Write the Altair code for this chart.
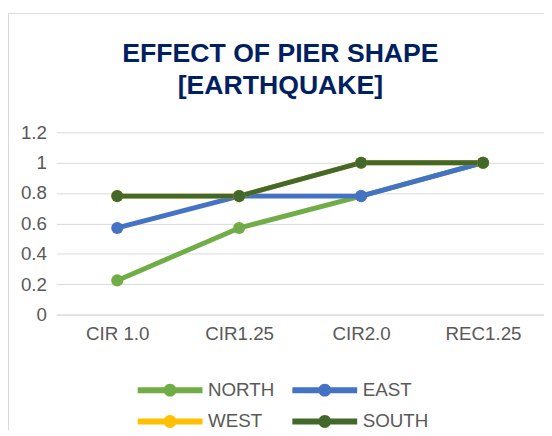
import altair as alt
import pandas as pd

categories = ["CIR 1.0", "CIR1.25", "CIR2.0", "REC1.25"]
series = ["NORTH", "EAST", "WEST", "SOUTH"]
north = [0.225, 0.57, 0.78, 1.0]
east = [0.57, 0.78, 0.78, 1.0]
west = [0.78, 0.78, 1.0, 1.0]
south = [0.78, 0.78, 1.0, 1.0]
colors = ["#70AD47", "#4472C4", "#FFC000", "#43682B"]
y_ticks = [0, 0.2, 0.4, 0.6, 0.8, 1.0, 1.2]
title_lines = ["EFFECT OF PIER SHAPE", "[EARTHQUAKE]"]

rows = []
for name, vals in zip(series, [north, east, west, south]):
    for c, v in zip(categories, vals):
        rows.append({"shape": c, "series": name, "value": v})
df = pd.DataFrame(rows)

FONT = "Liberation Sans"
GRAY = "#595959"
# line + dot legend glyph (unit = 7px with symbolSize 196)
legend_path = ("M-4.7,-0.43 L4.7,-0.43 L4.7,0.43 L-4.7,0.43 Z "
               "M-0.93,0 A0.93,0.93 0 1,1 0.93,0 A0.93,0.93 0 1,1 -0.93,0 Z")

frame = alt.Chart(pd.DataFrame({"k": [0]})).mark_rect(
    filled=False, stroke="#D9D9D9", strokeWidth=1
).encode(
    x=alt.value(-48.5), x2=alt.value(700), y=alt.value(-120.5), y2=alt.value(500)
)

base = alt.Chart(df).encode(
    x=alt.X("shape:N", sort=categories, scale=alt.Scale(padding=0.5),
            axis=alt.Axis(title=None, labelAngle=0, ticks=False, domain=True,
                          domainColor="#D9D9D9", labelFontSize=19, labelColor=GRAY,
                          labelFont=FONT, labelPadding=10, grid=False)),
    y=alt.Y("value:Q", scale=alt.Scale(domain=[0, 1.2]),
            axis=alt.Axis(title=None, values=y_ticks, ticks=False, domain=False,
                          format=".1~f",
                          gridColor="#D9D9D9", labelFontSize=19, labelColor=GRAY,
                          labelFont=FONT, labelPadding=10)),
    color=alt.Color("series:N", sort=series,
                    scale=alt.Scale(domain=series, range=colors),
                    legend=alt.Legend(title=None, orient="none", legendX=106, legendY=252,
                                      columns=2, direction="horizontal",
                                      symbolType=legend_path, symbolSize=196,
                                      symbolStrokeWidth=0, labelFontSize=19,
                                      labelColor=GRAY, labelFont=FONT, labelOffset=29,
                                      columnPadding=17, rowPadding=12)),
)

lines = base.mark_line(strokeWidth=5, point=alt.OverlayMarkDef(filled=True, size=150, opacity=1))

chart = alt.layer(frame, lines).properties(
    width=495, height=185,
    autosize=alt.AutoSizeParams(type="none"),
    padding={"left": 49, "top": 123, "right": 0, "bottom": 114},
    title=alt.TitleParams(text=title_lines, fontSize=27, font=FONT, fontWeight="bold",
                          color="#002060", anchor="middle", dx=-20, offset=-88,
                          lineHeight=32),
).configure_view(stroke=None)

chart.save("out.html", embed_options={"renderer": "svg", "actions": False})
